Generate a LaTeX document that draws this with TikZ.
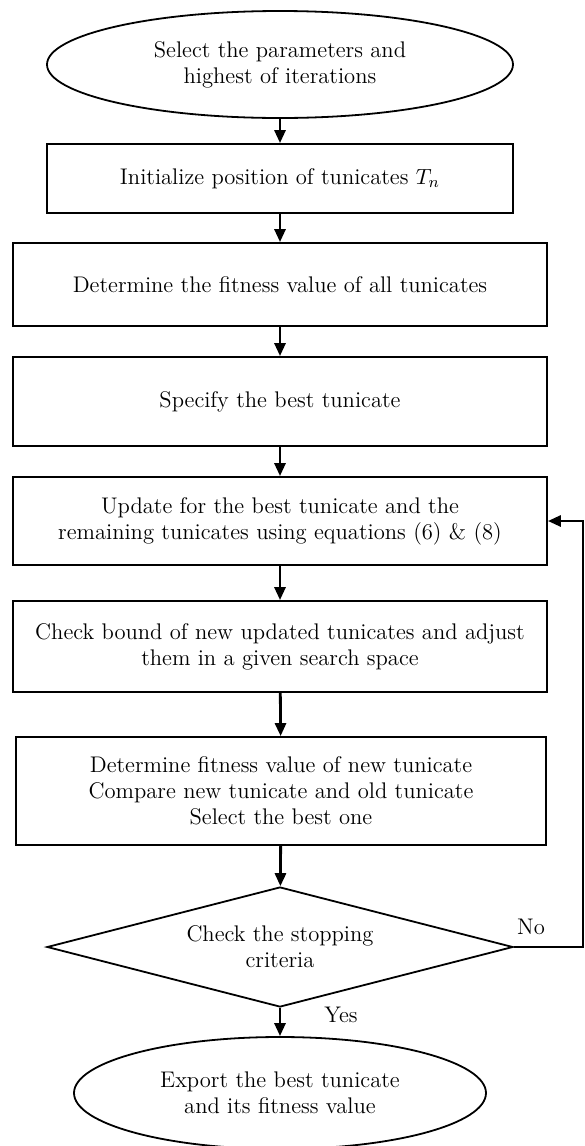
\documentclass[tikz,border=0pt]{standalone}
\usetikzlibrary{shapes.geometric,arrows.meta}
\begin{document}
\begin{tikzpicture}[x=0.5pt, y=-0.5pt,
    >={Triangle[length=6.5pt,width=5.5pt]},
    every node/.style={font=\fontsize{11.3}{12.9}\selectfont, align=center, inner sep=0pt},
    terminal/.style={ellipse, draw, line width=0.9pt},
    stepbox/.style={rectangle, draw, line width=0.9pt, minimum width=267pt},
    decision/.style={diamond, draw, line width=0.9pt, shape aspect=3.9},
    flow/.style={->, line width=1.4pt}]
  \useasboundingbox (0,0) rectangle (584,1146);

  \node[terminal, minimum width=233pt, minimum height=53.5pt] (start) at (280,64.5) {Select the parameters and\\highest of iterations};
  \node[stepbox, minimum width=233pt, minimum height=34.5pt] (init) at (280,178.5) {Initialize position of tunicates \(T_n\)};
  \node[stepbox, minimum height=41.5pt] (fitness) at (280,284.5) {Determine the fitness value of all tunicates};
  \node[stepbox, minimum height=44.5pt] (best) at (280,401.5) {Specify the best tunicate};
  \node[stepbox, minimum height=44pt] (update) at (280,521) {Update for the best tunicate and the\\remaining tunicates using equations (6) \& (8)};
  \node[stepbox, minimum height=45.5pt] (bound) at (280,646.5) {Check bound of new updated tunicates and adjust\\them in a given search space};
  \node[stepbox, minimum width=265pt, minimum height=54pt] (compare) at (281,791) {Determine fitness value of new tunicate\\Compare new tunicate and old tunicate\\Select the best one};
  \node[decision, minimum width=233pt, minimum height=60pt] (check) at (280,947) {Check the stopping\\criteria};
  \node[terminal, minimum width=206pt, minimum height=56pt] (export) at (280,1093) {Export the best tunicate\\and its fitness value};

  \node (no) at (531,927) {No};
  \node (yes) at (341,1015) {Yes};
  \coordinate (loopdn) at (583,947);
  \coordinate (loopup) at (583,521);

  \draw[flow] (start) -- (init);
  \draw[flow] (init) -- (fitness);
  \draw[flow] (fitness) -- (best);
  \draw[flow] (best) -- (update);
  \draw[flow] (update) -- (bound);
  \draw[flow] (bound) -- (compare);
  \draw[flow] (compare) -- (check);
  \draw[flow] (check) -- (export);
  \draw[flow] (check.east) -- (loopdn) -- (loopup) -- (update.east);
\end{tikzpicture}
\end{document}
